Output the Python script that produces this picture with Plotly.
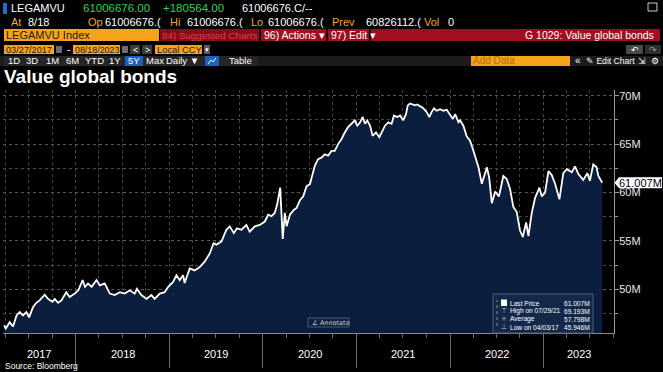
import plotly.graph_objects as go
import pandas as pd

# ---------------- data ----------------
dates = [
    "2017-03-27", "2017-04-03", "2017-04-18", "2017-05-01", "2017-05-15", "2017-05-27",
    "2017-06-09", "2017-06-22", "2017-07-03", "2017-07-18", "2017-07-31", "2017-08-13",
    "2017-09-02", "2017-09-15", "2017-10-02", "2017-10-11", "2017-10-24", "2017-11-06",
    "2017-11-25", "2017-12-08", "2017-12-28", "2018-01-11", "2018-01-28", "2018-02-06",
    "2018-02-18", "2018-03-04", "2018-03-23", "2018-04-05", "2018-04-24", "2018-05-14",
    "2018-06-02", "2018-06-22", "2018-07-11", "2018-07-31", "2018-08-19", "2018-08-28",
    "2018-09-14", "2018-10-04", "2018-10-23", "2018-11-05", "2018-11-25", "2018-12-14",
    "2018-12-28", "2019-01-16", "2019-01-29", "2019-02-11", "2019-02-24", "2019-03-02",
    "2019-03-22", "2019-04-10", "2019-04-30", "2019-05-19", "2019-06-08", "2019-06-23",
    "2019-07-04", "2019-07-24", "2019-08-12", "2019-08-25", "2019-09-10", "2019-09-22",
    "2019-10-10", "2019-10-29", "2019-11-11", "2019-12-01", "2019-12-20", "2020-01-09",
    "2020-01-22", "2020-02-04", "2020-02-17", "2020-02-26", "2020-03-09", "2020-03-13",
    "2020-03-19", "2020-03-27", "2020-04-03", "2020-04-16", "2020-05-01", "2020-05-12",
    "2020-05-25", "2020-06-07", "2020-06-20", "2020-07-03", "2020-07-10", "2020-07-22",
    "2020-08-04", "2020-08-17", "2020-08-30", "2020-09-12", "2020-09-25", "2020-10-08",
    "2020-10-21", "2020-11-03", "2020-11-16", "2020-11-29", "2020-12-12", "2020-12-25",
    "2021-01-04", "2021-01-15", "2021-01-25", "2021-02-03", "2021-02-12", "2021-02-23",
    "2021-03-05", "2021-03-18", "2021-03-31", "2021-04-09", "2021-04-22", "2021-05-05",
    "2021-05-18", "2021-05-27", "2021-06-09", "2021-06-20", "2021-07-02", "2021-07-13",
    "2021-07-20", "2021-07-29", "2021-08-17", "2021-08-26", "2021-09-06", "2021-09-19",
    "2021-10-02", "2021-10-12", "2021-10-21", "2021-10-30", "2021-11-10", "2021-11-23",
    "2021-12-06", "2021-12-19", "2022-01-03", "2022-01-12", "2022-01-21", "2022-02-03",
    "2022-02-09", "2022-02-22", "2022-03-07", "2022-03-20", "2022-03-31", "2022-04-09",
    "2022-04-22", "2022-05-05", "2022-05-15", "2022-05-25", "2022-06-03", "2022-06-13",
    "2022-06-26", "2022-07-11", "2022-07-28", "2022-08-10", "2022-08-23", "2022-09-05",
    "2022-09-18", "2022-10-01", "2022-10-12", "2022-10-25", "2022-11-03", "2022-11-16",
    "2022-11-29", "2022-12-16", "2022-12-25", "2023-01-07", "2023-01-20", "2023-02-02",
    "2023-02-15", "2023-03-04", "2023-03-19", "2023-04-02", "2023-04-21", "2023-05-04",
    "2023-05-17", "2023-06-05", "2023-06-21", "2023-07-01", "2023-07-14", "2023-07-27",
    "2023-08-03", "2023-08-18",
]
values_m = [
    46.25, 45.946, 46.6, 46.15, 47.3, 47.65,
    47.3, 47.65, 47.1, 48.15, 48.6, 48.85,
    49.45, 49.0, 48.7, 49.0, 48.6, 48.85,
    49.7, 49.2, 49.55, 49.9, 50.95, 50.25,
    50.6, 50.25, 50.95, 50.4, 50.6, 49.55,
    49.4, 49.7, 49.55, 49.9, 49.55, 50.05,
    49.4, 49.0, 49.4, 49.0, 49.55, 49.7,
    50.25, 50.75, 51.45, 50.95, 51.45, 50.65,
    52.15, 51.95, 52.3, 52.85, 53.7, 54.75,
    54.6, 54.95, 56.15, 56.5, 55.8, 56.3,
    56.15, 56.65, 55.95, 56.5, 56.65, 57.0,
    57.7, 57.55, 57.9, 58.75, 60.5, 57.55,
    55.2, 57.9, 56.5, 57.7, 58.2, 58.4,
    59.2, 59.6, 60.65, 60.85, 61.5, 62.75,
    63.45, 63.6, 63.95, 63.8, 64.3, 64.3,
    65.0, 65.5, 66.2, 66.75, 67.1, 67.45,
    66.9, 67.25, 67.8, 67.1, 67.45, 66.9,
    65.85, 66.2, 65.7, 66.2, 66.9, 67.25,
    67.1, 67.95, 67.8, 67.95, 67.45, 68.1,
    69.0, 69.193, 69.0, 69.1, 68.9, 68.7,
    68.3, 67.8, 68.3, 68.7, 68.45, 68.6,
    68.45, 68.55, 67.95, 67.6, 68.1, 67.25,
    67.45, 66.9, 65.8, 65.35, 64.5, 63.6,
    62.6, 60.9, 61.7, 62.6, 61.5, 58.9,
    60.1, 59.6, 61.7, 61.4, 60.4, 58.5,
    58.0, 56.1, 55.4, 56.9, 55.5, 57.9,
    59.45, 60.5, 59.6, 60.0, 62.2, 61.8,
    60.9, 59.3, 62.0, 62.4, 62.1, 62.7,
    61.9, 61.3, 62.0, 61.2, 62.9, 62.6,
    61.7, 61.007,
]
y_tick_vals = [50, 55, 60, 65, 70]
y_tick_text = ["50M", "55M", "60M", "65M", "70M"]
year_labels = ["2017", "2018", "2019", "2020", "2021", "2022", "2023"]
x_range = ["2017-03-23", "2023-10-03"]
y_range = [45.45, 70.59]
legend_labels = ["Last Price", "High on 07/29/21", "Average", "Low on 04/03/17"]
legend_values = ["61.007M", "69.193M", "57.798M", "45.946M"]
last_price = 61.007
last_price_text = "61.007M"

# ---------------- helpers ----------------
W, H = 663, 372
FONT = "Liberation Sans, Arial, sans-serif"
ORANGE = "#f7a21b"
TXT_OR = "#f5a623"
GREEN = "#2bd34a"
RED = "#a10e1e"


def px(x):
    return x / W


def py(y):
    return 1 - y / H


shapes = []
annotations = []


def rect(x0, y0, x1, y1, color, line_color=None, layer="above"):
    shapes.append(dict(
        type="rect", xref="paper", yref="paper",
        x0=px(x0), x1=px(x1), y0=py(y1), y1=py(y0),
        fillcolor=color, layer=layer,
        line=dict(width=1 if line_color else 0, color=line_color or color),
    ))


def text(x, y, s, color="white", size=11, anchor="left", family=FONT):
    annotations.append(dict(
        xref="paper", yref="paper", x=px(x), y=py(y), text=s,
        showarrow=False, xanchor=anchor, yanchor="middle",
        font=dict(color=color, size=size, family=family), borderpad=0,
    ))


# ---------------- header ----------------
HS = 11
# row 1
rect(3, 3, 7, 14, "#1f6fd1")
text(10, 8, "LEGAMVU", "white", HS)
text(82, 8, "61006676.00", GREEN, 11.5)
text(162, 8, "+180564.00", GREEN, 11.5)
text(241, 8, "61006676.C/--", "white", HS)
rect(648, 3, 657, 11, "black", "#d0d0d0")
# row 2
text(10, 22, "At", TXT_OR, HS)
text(27, 22, "8/18", "white", HS)
text(87, 22, "Op", TXT_OR, HS)
text(104, 22, "61006676.(", "white", HS)
text(169, 22, "Hi", TXT_OR, HS)
text(186, 22, "61006676.(", "white", HS)
text(250, 22, "Lo", TXT_OR, HS)
text(267, 22, "61006676.(", "white", HS)
text(331, 22, "Prev", TXT_OR, HS)
text(365, 22, "60826112.(", "white", HS)
text(423, 22, "Vol", TXT_OR, HS)
text(447, 22, "0", "white", HS)
# row 3
rect(4, 29, 159, 41, ORANGE)
text(5, 35, "LEGAMVU Index", "#1a1a1a", 11)
rect(160, 29, 259, 41, "#8c0b19")
text(161, 35, "94) Suggested Charts", "#d2424f", 9.8)
rect(261, 29, 326, 41, RED)
text(263, 35, "96) Actions ▾", "white", 10.5)
rect(328, 29, 369, 41, RED)
text(330, 35, "97) Edit ▾", "white", 10.5)
rect(371, 29, 660, 41, RED)
text(655, 35, "G 1029: Value global bonds", "white", 10.5, anchor="right")
# row 4
rect(4, 45, 54, 54, ORANGE)
text(5, 49.5, "03/27/2017", "#1a1a1a", 9.2)
rect(56, 46, 62, 53, "#6b6b6b")
text(66, 49.5, "-", "white", 10)
rect(73, 45, 120, 54, ORANGE)
text(74, 49.5, "08/18/2023", "#1a1a1a", 8.9)
rect(122, 46, 128, 53, "#6b6b6b")
rect(130, 45, 140, 54, "#3c3c3c")
text(135, 49.5, "<", "white", 9, anchor="center")
rect(142, 45, 152, 54, "#3c3c3c")
text(147, 49.5, ">", "white", 9, anchor="center")
rect(155, 45, 202, 54, ORANGE)
text(156, 49.5, "Local CCY", "#1a1a1a", 9.4)
rect(204, 45, 210, 54, "#5a5a5a")
text(207, 49.5, "▾", "white", 7, anchor="center")
rect(626, 45, 643, 54, "#4a4a4a")
text(634.5, 49.5, "↶", "white", 9, anchor="center")
rect(645, 45, 661, 54, "#2e2e2e")
text(653, 49.5, "↷", "#9a9a9a", 9, anchor="center")
# row 5
rect(0, 56, 663, 66, "#1c1c1c")
rect(4, 56, 258, 66, "#262626")
btns = [("1D", 14), ("3D", 32), ("1M", 52), ("6M", 72), ("YTD", 94), ("1Y", 115),
        ("5Y", 134), ("Max", 155), ("Daily ▼", 182), ("Table", 240)]
rect(125, 56, 143, 66, "#1f5fbf")
rect(205, 56, 219, 66, "#1f5fbf")
shapes.append(dict(type="path", xref="paper", yref="paper", layer="above",
                   path="M %f,%f L %f,%f L %f,%f L %f,%f" % (
                       px(208), py(64), px(211), py(60), px(213), py(62), px(216), py(58)),
                   line=dict(color="white", width=1)))
for label, cx in btns:
    text(cx, 61, label, "white", 9.5, anchor="center")
rect(471, 56, 570, 66, ORANGE)
text(472, 61, "Add Data", "#b26f0c", 10)
text(578, 61, "«", "white", 10, anchor="center")
text(585, 61, "✎ Edit Chart", "white", 8.6)
text(642, 61, "⇲", "white", 9, anchor="center")
text(655, 61, "⚙", "white", 9, anchor="center")

# title
text(3, 76, "<b>Value global bonds</b>", "white", 19)

# footer
text(4, 366, "Source: Bloomberg", "white", 8.5)

# ---------------- chart ----------------
x_dom = [px(3), px(614)]
y_dom = [py(333.3), py(90)]

start = pd.Timestamp(x_range[0])
end = pd.Timestamp(x_range[1])
year_starts = [pd.Timestamp(f"{int(y) + 1}-01-01") for y in year_labels[:-1]]
for ylab in year_labels:
    a = max(pd.Timestamp(f"{ylab}-01-01"), start)
    b = min(pd.Timestamp(f"{int(ylab) + 1}-01-01"), end)
    mid = a + (b - a) / 2
    annotations.append(dict(xref="x", yref="paper", x=mid.strftime("%Y-%m-%d %H:%M"),
                            y=py(354), text=ylab, showarrow=False,
                            xanchor="center", yanchor="middle",
                            font=dict(color="white", size=11, family=FONT)))

# last price tag
half = 5.6 * (y_range[1] - y_range[0]) / (333.3 - 90)
shapes.append(dict(type="path", xref="paper", yref="y", layer="above",
                   path="M %f,%f L %f,%f L %f,%f L %f,%f L %f,%f Z" % (
                       px(614.5), last_price, px(619), last_price + half,
                       px(662), last_price + half, px(662), last_price - half,
                       px(619), last_price - half),
                   fillcolor="white", line=dict(width=0)))
annotations.append(dict(xref="paper", yref="y", x=px(640.5), y=last_price,
                        text=last_price_text, showarrow=False, xanchor="center",
                        yanchor="middle", font=dict(color="black", size=11, family=FONT)))

# legend box
rect(493, 294, 593, 333, "#13284a", "#4d5d75")
rows_y = [303, 311, 319, 327]
shapes.append(dict(type="line", xref="paper", yref="paper", layer="above",
                   x0=px(497), x1=px(497), y0=py(326), y1=py(300),
                   line=dict(color="#8a8a8a", width=1, dash="dot")))
rect(501, 299.5, 507, 306, "white")
icons = ["", "⊤", "+", "⊥"]
for lab, val, ry, ic in zip(legend_labels, legend_values, rows_y, icons):
    if ic:
        text(504, ry, ic, "#bdbdbd", 7, anchor="center", family="DejaVu Sans")
    text(509, ry, lab, "white", 6.6)
    text(591, ry, val, "white", 6.6, anchor="right")

# annotate button
rect(308, 318, 349, 327, "#0f2240", "#4a5a72")
text(311, 322.5, "∠ Annotate", "#d0d0d0", 6.5, family="DejaVu Sans")

fig = go.Figure()
fig.add_trace(go.Scatter(
    x=dates, y=values_m, mode="lines",
    line=dict(color="white", width=1.8),
    fill="tozeroy", fillcolor="#0b1e3d",
    hoverinfo="skip", showlegend=False,
))

fig.update_layout(
    width=W, height=H, autosize=False,
    margin=dict(l=0, r=0, t=0, b=0, pad=0),
    paper_bgcolor="black", plot_bgcolor="black",
    showlegend=False,
    shapes=shapes, annotations=annotations,
    xaxis=dict(
        type="date", range=x_range, domain=x_dom,
        tickvals=[d.strftime("%Y-%m-%d") for d in year_starts],
        showticklabels=False, ticks="outside", ticklen=34,
        tickcolor="#6e6e6e", tickwidth=1,
        showgrid=True, gridcolor="#4a4a4a", griddash="dot", gridwidth=1,
        showline=True, linecolor="#8c8c8c", linewidth=1, zeroline=False,
        minor=dict(dtick="M3", tick0="2017-01-01", ticks="outside", ticklen=4,
                   tickcolor="#6e6e6e", showgrid=True, gridcolor="#424242",
                   griddash="dot", gridwidth=1),
        fixedrange=True,
    ),
    yaxis=dict(
        side="right", range=y_range, domain=y_dom,
        tickvals=y_tick_vals, ticktext=y_tick_text,
        ticks="outside", ticklen=4, tickcolor="#9a9a9a",
        tickfont=dict(color="#e8e8e8", size=11, family=FONT),
        ticklabelstandoff=-2,
        showline=True, linecolor="#9a9a9a", linewidth=1,
        showgrid=True, gridcolor="#5a5a5a", griddash="dot", gridwidth=1,
        zeroline=False,
        minor=dict(dtick=2.5, tick0=0, ticks="outside", ticklen=3,
                   tickcolor="#9a9a9a", showgrid=True, gridcolor="#4a4a4a",
                   griddash="dot", gridwidth=1),
        fixedrange=True,
    ),
)

fig.write_html(
    "out.html",
    config={"displayModeBar": False},
    post_script="document.body.style.margin='0';document.body.style.padding='0';"
                "document.body.style.background='black';",
)
